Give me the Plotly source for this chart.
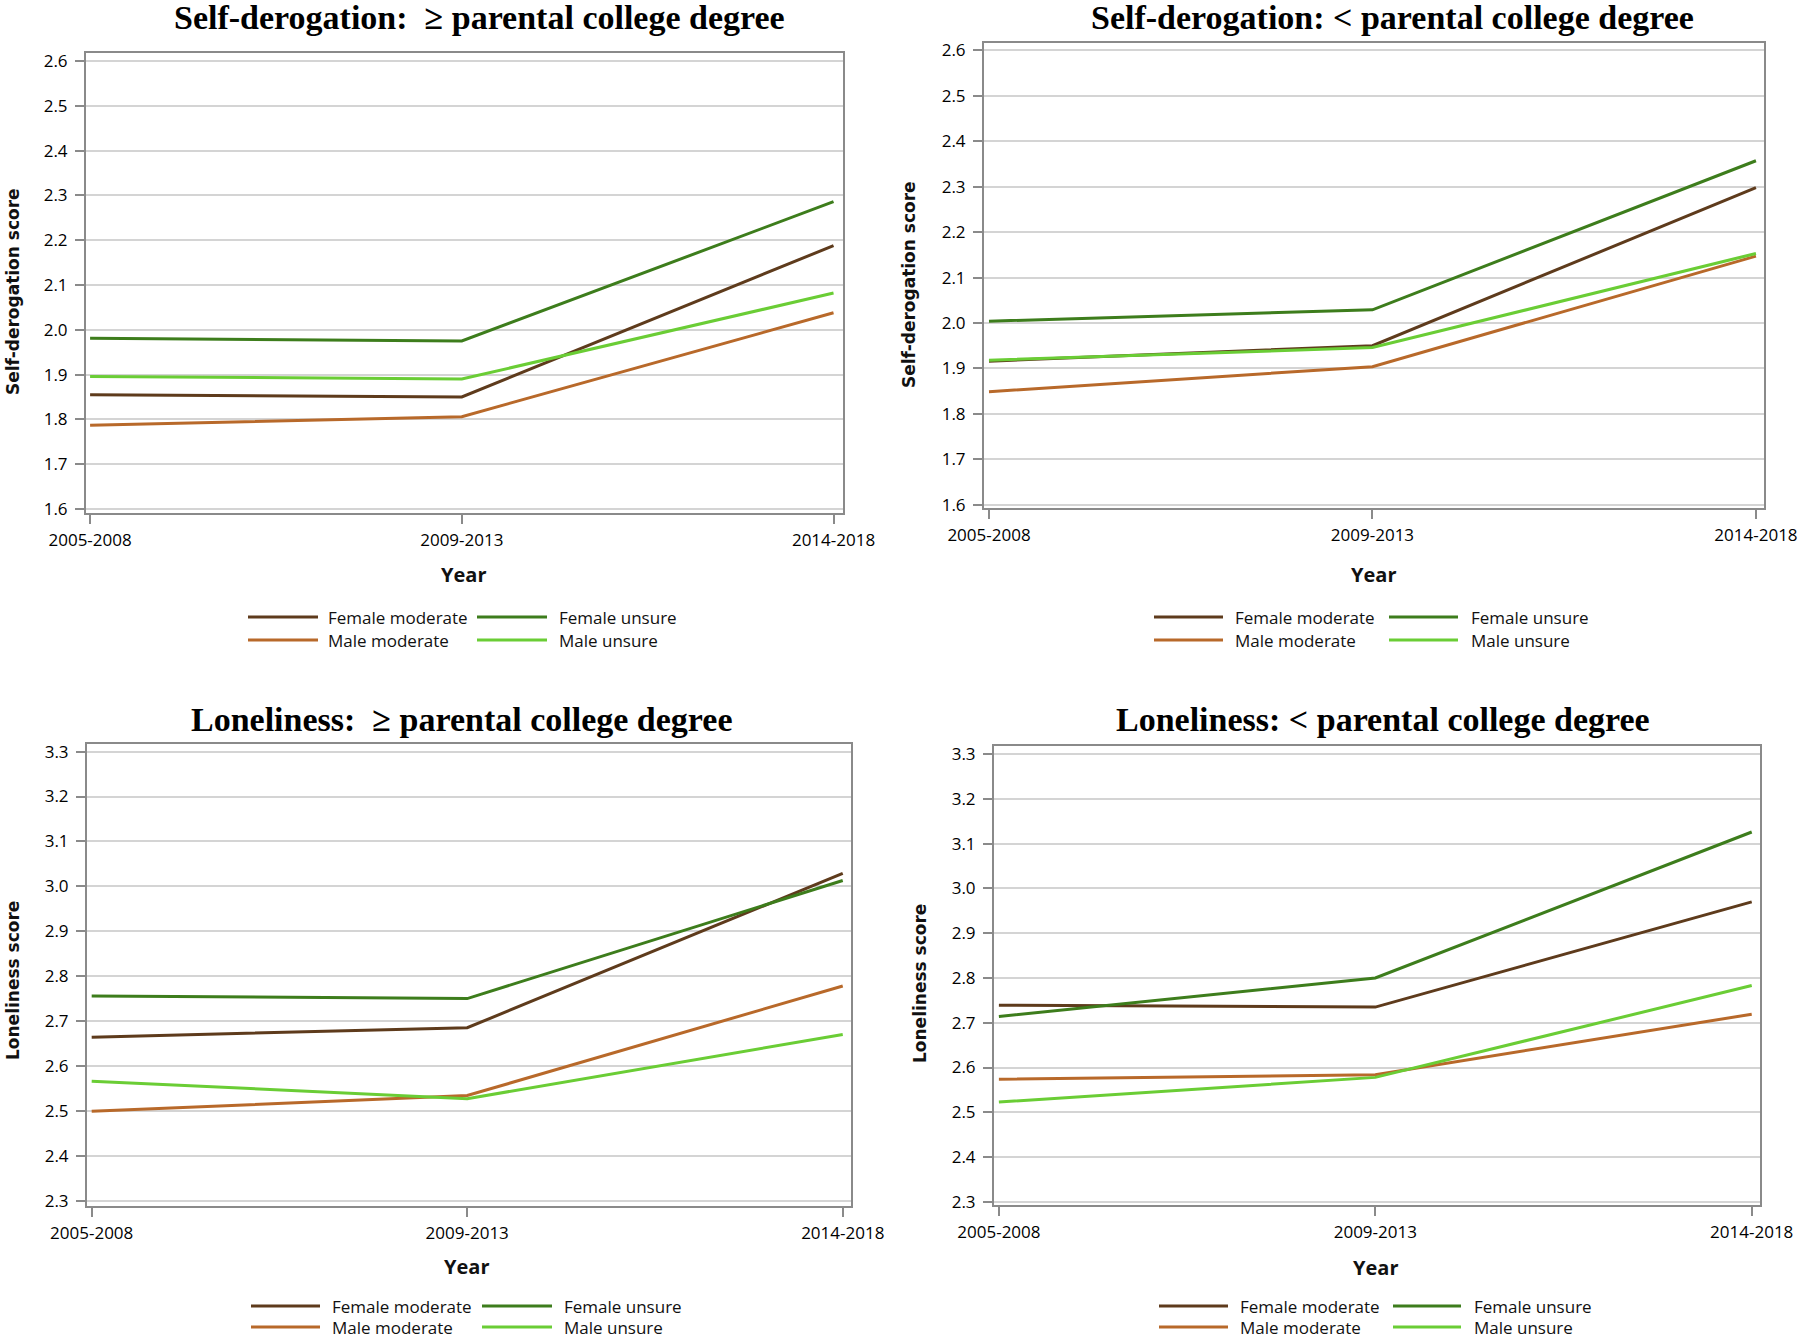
import plotly.graph_objects as go

# ---------------- data ----------------
years = ["2005-2008", "2009-2013", "2014-2018"]
series_names = ["Female moderate", "Male moderate", "Female unsure", "Male unsure"]
series_colors = ["#5E3B1C", "#B8692A", "#3D7D1C", "#6ACD35"]

sd_high_fm = [1.855, 1.850, 2.188]
sd_high_mm = [1.787, 1.806, 2.038]
sd_high_fu = [1.981, 1.975, 2.286]
sd_high_mu = [1.896, 1.890, 2.082]

sd_low_fm = [1.916, 1.950, 2.298]
sd_low_mm = [1.849, 1.904, 2.147]
sd_low_fu = [2.004, 2.029, 2.357]
sd_low_mu = [1.918, 1.946, 2.153]

lon_high_fm = [2.664, 2.685, 3.029]
lon_high_mm = [2.499, 2.534, 2.778]
lon_high_fu = [2.756, 2.750, 3.013]
lon_high_mu = [2.566, 2.527, 2.670]

lon_low_fm = [2.739, 2.735, 2.970]
lon_low_mm = [2.574, 2.584, 2.719]
lon_low_fu = [2.714, 2.800, 3.126]
lon_low_mu = [2.523, 2.578, 2.783]

titles = ["Self-derogation:  \u2265 parental college degree",
          "Self-derogation: < parental college degree",
          "Loneliness:  \u2265 parental college degree",
          "Loneliness: < parental college degree"]
y_titles = ["Self-derogation score", "Self-derogation score",
            "Loneliness score", "Loneliness score"]
x_title = "Year"
sd_ticks = [1.6, 1.7, 1.8, 1.9, 2.0, 2.1, 2.2, 2.3, 2.4, 2.5, 2.6]
lon_ticks = [2.3, 2.4, 2.5, 2.6, 2.7, 2.8, 2.9, 3.0, 3.1, 3.2, 3.3]

panels_data = [
    [sd_high_fm, sd_high_mm, sd_high_fu, sd_high_mu],
    [sd_low_fm, sd_low_mm, sd_low_fu, sd_low_mu],
    [lon_high_fm, lon_high_mm, lon_high_fu, lon_high_mu],
    [lon_low_fm, lon_low_mm, lon_low_fu, lon_low_mu],
]
panel_ticks = [sd_ticks, sd_ticks, lon_ticks, lon_ticks]

# ---------------- layout geometry (pixels) ----------------
W, H = 1800, 1338
def px(x):
    return x / W
def py(y):
    return 1 - y / H

# frame boxes: (left, right, top, bottom)
boxes = [(86, 843, 53, 513), (984, 1764, 43, 508),
         (87, 851, 744, 1206), (994, 1760, 746, 1205)]
x_ranges = [[-0.011, 2.0255], [-0.013, 2.021], [-0.0125, 2.022], [-0.013, 2.022]]
y_ranges = [[1.591, 2.618], [1.593, 2.616], [2.288, 3.317], [2.293, 3.318]]
title_pos = [(479, 17), (1392, 17), (462, 719), (1383, 719)]
ytitle_pos = [(13, 292), (909, 285), (13, 981), (920, 983)]
xtitle_pos = [(463, 574), (1373, 574), (467, 1266), (1375, 1267)]
# legend: (line1_x0, line1_x1, text1_x, line2_x0, line2_x1, text2_x, row1_y, row2_y)
legend_pos = [(248, 318, 326, 477, 547, 557, 617, 640),
              (1154, 1223, 1233, 1389, 1458, 1469, 617, 640),
              (251, 320, 330, 482, 552, 562, 1306, 1327),
              (1159, 1228, 1238, 1393, 1461, 1472, 1306, 1327)]

fig = go.Figure()

GRID = "#D4D4D4"
FRAME = "#8A8A8A"
TICKFONT = dict(family="Open Sans, Liberation Sans, sans-serif", size=17, color="#000000")

annotations = []
shapes = []

for i in range(4):
    ax = "" if i == 0 else str(i + 1)
    for k in range(4):
        fig.add_trace(go.Scatter(
            x=years, y=panels_data[i][k], mode="lines", name=series_names[k],
            line=dict(color=series_colors[k], width=3),
            xaxis="x" + ax, yaxis="y" + ax, showlegend=False,
        ))
    l, r, t, b = boxes[i]
    fig.update_layout(**{
        "xaxis" + ax: dict(
            domain=[px(l), px(r)], anchor="y" + ax, type="category",
            range=x_ranges[i], showgrid=False, zeroline=False, automargin=False,
            showline=True, mirror=True, linecolor=FRAME, linewidth=2,
            ticks="outside", ticklen=9, tickwidth=2, tickcolor=FRAME,
            tickfont=TICKFONT, ticklabelstandoff=2,
        ),
        "yaxis" + ax: dict(
            domain=[py(b), py(t)], anchor="x" + ax, range=y_ranges[i],
            tickvals=panel_ticks[i], tickformat=".1f", automargin=False,
            showgrid=True, gridcolor=GRID, gridwidth=2, zeroline=False,
            showline=True, mirror=True, linecolor=FRAME, linewidth=2,
            ticks="outside", ticklen=9, tickwidth=2, tickcolor=FRAME,
            tickfont=TICKFONT, ticklabelstandoff=4,
        ),
    })
    # panel title
    tx, ty = title_pos[i]
    annotations.append(dict(
        text="<b>" + titles[i] + "</b>", x=px(tx), y=py(ty), xref="paper", yref="paper",
        showarrow=False, xanchor="center", yanchor="middle",
        font=dict(family="Liberation Serif, Times New Roman, serif", size=34, color="#000000"),
    ))
    # y title
    yx, yy = ytitle_pos[i]
    annotations.append(dict(
        text="<b>" + y_titles[i] + "</b>", x=px(yx), y=py(yy), xref="paper", yref="paper",
        showarrow=False, xanchor="center", yanchor="middle", textangle=-90,
        font=dict(family="DejaVu Sans, Verdana, sans-serif", size=17, color="#111111"),
    ))
    # x title
    xx, xy = xtitle_pos[i]
    annotations.append(dict(
        text="<b>" + x_title + "</b>", x=px(xx), y=py(xy), xref="paper", yref="paper",
        showarrow=False, xanchor="center", yanchor="middle",
        font=dict(family="Open Sans, Liberation Sans, sans-serif", size=20, color="#111111"),
    ))
    # legend (two columns x two rows)
    a0, a1, at, b0, b1, bt, r1, r2 = legend_pos[i]
    cells = [(a0, a1, at, r1), (a0, a1, at, r2), (b0, b1, bt, r1), (b0, b1, bt, r2)]
    for k in range(4):
        x0, x1, xt, yr = cells[k]
        shapes.append(dict(type="line", xref="paper", yref="paper",
                           x0=px(x0), x1=px(x1), y0=py(yr), y1=py(yr),
                           line=dict(color=series_colors[k], width=3)))
        annotations.append(dict(
            text=series_names[k], x=px(xt), y=py(yr), xref="paper", yref="paper",
            showarrow=False, xanchor="left", yanchor="middle",
            font=dict(family="Open Sans, Liberation Sans, sans-serif", size=17, color="#111111"),
        ))

fig.update_layout(
    width=W, height=H, margin=dict(l=0, r=0, t=0, b=0, pad=0, autoexpand=False),
    paper_bgcolor="white", plot_bgcolor="white",
    annotations=annotations, shapes=shapes, showlegend=False,
)

fig.write_html("out.html",
               config={"displayModeBar": False},
               post_script="document.body.style.margin='0';document.body.style.padding='0';")
